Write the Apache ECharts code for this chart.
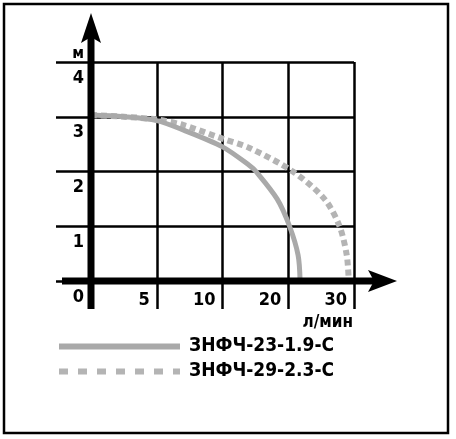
<!DOCTYPE html>
<html>
<head>
<meta charset="utf-8">
<script src="https://cdn.jsdelivr.net/npm/echarts@6/dist/echarts.min.js"></script>
<style>
  html, body { margin: 0; padding: 0; background: #fff; }
  #main { width: 456px; height: 439px; }
</style>
</head>
<body>
<div id="main"></div>
<script>
// the flow axis is not linear: 0, 5, 10, 20, 30 sit at equal steps
var flowBreaks = [0, 5, 10, 20, 30];
var xTickLabels = ['0', '5', '10', '20', '30'];
var yTickLabels = ['0', '1', '2', '3', '4'];

var seriesNames = ['ЗНФЧ-23-1.9-С', 'ЗНФЧ-29-2.3-С'];

// ЗНФЧ-23-1.9-С, flow in l/min, head in m
var flowA = [0, 2.5, 5, 7, 10, 14.1, 15.1, 18.3, 20.2, 21.5, 21.8];
var headA = [3.03, 3.0, 2.93, 2.76, 2.45, 2.11, 2.0, 1.5, 1.0, 0.47, 0];

// ЗНФЧ-29-2.3-С
var flowB = [0, 2.5, 5, 7, 10, 14.1, 20.7, 25.5, 27.8, 28.9, 29.2];
var headB = [3.03, 3.0, 2.95, 2.85, 2.6, 2.43, 2.0, 1.5, 1.0, 0.47, 0];

function toPos(q) {
    for (var i = 1; i < flowBreaks.length; i++) {
        if (q <= flowBreaks[i]) {
            return i - 1 + (q - flowBreaks[i - 1]) / (flowBreaks[i] - flowBreaks[i - 1]);
        }
    }
    return flowBreaks.length - 1;
}

function pairs(flow, head) {
    return flow.map(function (q, i) { return [toPos(q), head[i]]; });
}

var font = "'Liberation Sans Narrow', 'DejaVu Sans Condensed', sans-serif";
var gridStyle = { color: '#000', width: 2.5 };
var colorA = '#a9a9a9';
var colorB = '#b4b4b4';

var myChart = echarts.init(document.getElementById('main'));

var option = {
    animation: false,
    color: [colorA, colorB],
    grid: { left: 91, right: 102, top: 62, bottom: 158 },
    legend: {
        orient: 'vertical',
        left: 56,
        top: 337,
        padding: 0,
        itemWidth: 121,
        itemHeight: 14,
        itemGap: 6,
        selectedMode: false,
        itemStyle: { opacity: 0 },
        textStyle: { fontFamily: font, fontWeight: 'bold', fontSize: 19, color: '#000', padding: [0, 0, 0, 4] },
        data: [
            { name: seriesNames[0], lineStyle: { width: 6, color: colorA, type: 'solid' } },
            { name: seriesNames[1], lineStyle: { width: 6, color: colorB, type: [9, 10] } }
        ]
    },
    xAxis: {
        type: 'value',
        min: 0,
        max: 4,
        interval: 1,
        name: 'л/мин',
        nameLocation: 'end',
        nameGap: -1,
        nameTextStyle: {
            fontFamily: font, fontWeight: 'bold', fontSize: 17, color: '#000',
            align: 'right', verticalAlign: 'top', padding: [33, 0, 0, 0]
        },
        axisLine: { show: false },
        axisTick: { show: true, inside: false, length: 28, lineStyle: gridStyle },
        splitLine: { show: true, lineStyle: gridStyle },
        axisLabel: {
            margin: 10,
            align: 'right',
            padding: [0, 7, 0, 0],
            fontFamily: font, fontWeight: 'bold', fontSize: 18, color: '#000',
            formatter: function (v) { return v === 0 ? '' : xTickLabels[v]; }
        }
    },
    yAxis: {
        type: 'value',
        min: 0,
        max: 4,
        interval: 1,
        name: 'м',
        nameLocation: 'end',
        nameGap: 0,
        nameTextStyle: {
            fontFamily: font, fontWeight: 'bold', fontSize: 16, color: '#000',
            align: 'right', padding: [0, 7, 0, 0]
        },
        axisLine: { show: false },
        axisTick: { show: true, inside: false, length: 35, lineStyle: gridStyle },
        splitLine: { show: true, lineStyle: gridStyle },
        axisLabel: {
            margin: 7,
            verticalAlign: 'top',
            padding: [7, 0, 0, 0],
            fontFamily: font, fontWeight: 'bold', fontSize: 18, color: '#000',
            formatter: function (v) { return yTickLabels[v]; }
        }
    },
    series: [
        {
            name: seriesNames[0],
            type: 'line',
            smooth: 0.3,
            symbol: 'none',
            z: 3,
            itemStyle: { color: colorA },
            lineStyle: { color: colorA, width: 5 },
            data: pairs(flowA, headA)
        },
        {
            name: seriesNames[1],
            type: 'line',
            smooth: 0.3,
            symbol: 'none',
            z: 2,
            itemStyle: { color: colorB },
            lineStyle: { color: colorB, width: 6, type: [6, 4] },
            data: pairs(flowB, headB)
        }
    ]
};

myChart.setOption(option);

// thick arrowed axes and the outer frame
var o = myChart.convertToPixel({ gridIndex: 0 }, [0, 0]);
var xEnd = myChart.convertToPixel({ gridIndex: 0 }, [4, 0])[0];
var yTop = myChart.convertToPixel({ gridIndex: 0 }, [0, 4])[1];
var ox = o[0], oy = o[1];

myChart.setOption({
    graphic: [
        {
            type: 'rect', z: 0, silent: true,
            shape: { x: 4, y: 4, width: 444, height: 429 },
            style: { fill: 'none', stroke: '#000', lineWidth: 2.5 }
        },
        {
            type: 'line', z: 10, silent: true,
            shape: { x1: ox, y1: oy + 28, x2: ox, y2: yTop - 25 },
            style: { stroke: '#000', lineWidth: 7 }
        },
        {
            type: 'polygon', z: 10, silent: true,
            shape: { points: [[ox, yTop - 49], [ox + 10, yTop - 19], [ox, yTop - 25], [ox - 10, yTop - 19]] },
            style: { fill: '#000' }
        },
        {
            type: 'line', z: 10, silent: true,
            shape: { x1: ox - 29, y1: oy, x2: xEnd + 20, y2: oy },
            style: { stroke: '#000', lineWidth: 7 }
        },
        {
            type: 'polygon', z: 10, silent: true,
            shape: { points: [[xEnd + 43, oy], [xEnd + 14, oy - 11], [xEnd + 20, oy], [xEnd + 14, oy + 11]] },
            style: { fill: '#000' }
        }
    ]
});
</script>
</body>
</html>
